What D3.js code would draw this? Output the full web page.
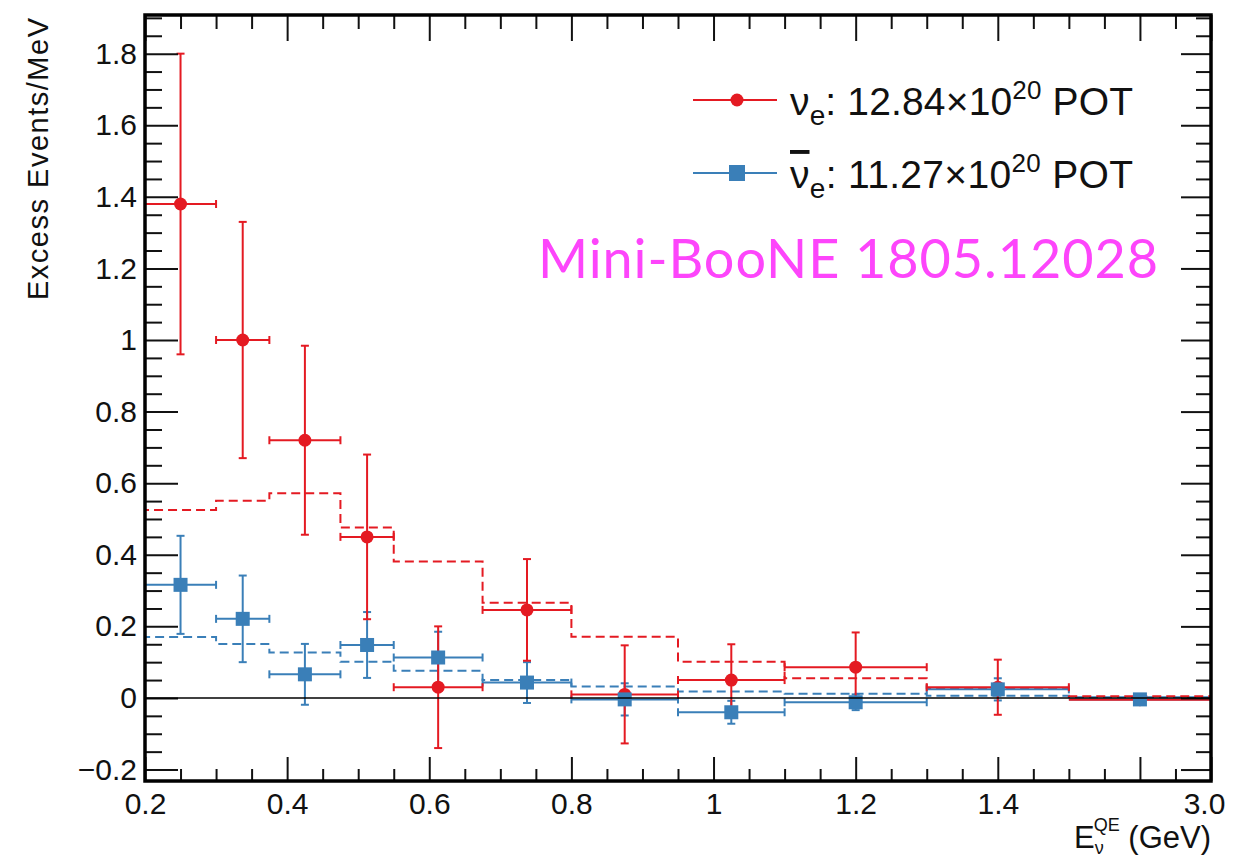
<!DOCTYPE html>
<html>
<head>
<meta charset="utf-8">
<script src="https://cdn.jsdelivr.net/npm/d3@7"></script>
<style>
  body { margin: 0; background: #fff; }
  .tick text { font-family: "Liberation Sans", Arial, sans-serif; fill: #111; }
  .domain { display: none; }
</style>
</head>
<body>
<script>
// bins in reconstructed neutrino energy (GeV)
let binEdges   = [0.2, 0.3, 0.375, 0.475, 0.55, 0.675, 0.8, 0.95, 1.1, 1.3, 1.5, 3.0];
let binCenters = [0.25, 0.3375, 0.425, 0.5125, 0.6125, 0.7375, 0.875, 1.025, 1.2, 1.4, 2.25];

// nu_e mode excess (events/MeV) and errors
let nueExcess = [1.38, 1.0, 0.72, 0.45, 0.03, 0.246, 0.01, 0.05, 0.086, 0.03, -0.005];
let nueErr    = [0.42, 0.33, 0.264, 0.23, 0.17, 0.142, 0.137, 0.10, 0.097, 0.077, 0.006];
// nu_e-bar mode excess and errors
let nuebarExcess = [0.316, 0.221, 0.066, 0.148, 0.113, 0.043, -0.004, -0.04, -0.012, 0.024, -0.004];
let nuebarErr    = [0.137, 0.121, 0.085, 0.092, 0.072, 0.057, 0.045, 0.032, 0.022, 0.031, 0.005];
// best-fit predictions (dashed histograms)
let nueFit    = [0.525, 0.551, 0.572, 0.476, 0.381, 0.266, 0.171, 0.101, 0.055, 0.027, 0.005];
let nuebarFit = [0.17, 0.151, 0.127, 0.101, 0.076, 0.05, 0.032, 0.018, 0.012, 0.006, 0.002];

// tick labels
let xMajorTicks  = [0.2, 0.4, 0.6, 0.8, 1.0, 1.2, 1.4, 2.25, 3.0];
let xMajorLabels = ["0.2", "0.4", "0.6", "0.8", "1", "1.2", "1.4", "", "3.0"];
let xMinorTicks  = [0.25, 0.3, 0.35, 0.45, 0.5, 0.55, 0.65, 0.7, 0.75, 0.85, 0.9, 0.95,
                    1.05, 1.1, 1.15, 1.25, 1.3, 1.35, 1.45, 1.5, 1.875, 2.625];
let yMajorTicks  = [-0.2, 0, 0.2, 0.4, 0.6, 0.8, 1.0, 1.2, 1.4, 1.6, 1.8];
let yMajorLabels = ["\u22120.2", "0", "0.2", "0.4", "0.6", "0.8", "1", "1.2", "1.4", "1.6", "1.8"];

let red  = "#e41a22",
    blue = "#3a7fb8";

let margin = {top: 15, right: 41, bottom: 81, left: 145},
    width  = 1252 - margin.left - margin.right,
    height = 862 - margin.top - margin.bottom;

let svg = d3.select("body").append("svg")
    .attr("width", 1252)
    .attr("height", 862)
    .append("g")
      .attr("transform", `translate(${margin.left}, ${margin.top})`);

// last bin 1.5-3.0 GeV is squeezed, like the original plot
let xScale = d3.scaleLinear()
    .domain([0.2, 1.5, 3.0])
    .range([0, width * 1.3 / 1.5, width]);
let yScale = d3.scaleLinear()
    .domain([-0.232, 1.908])
    .range([height, 0]);

function drawAxes() {
  let minorY = d3.range(-0.2, 1.91, 0.05).map(v => +v.toFixed(2))
      .filter(v => !yMajorTicks.some(t => Math.abs(t - v) < 1e-6));

  svg.append("g")
      .attr("transform", `translate(0, ${height})`)
      .call(d3.axisBottom(xScale).tickValues(xMajorTicks).tickSize(-24).tickPadding(12)
        .tickFormat((d, i) => xMajorLabels[i]))
      .call(g => g.selectAll("text").attr("font-size", 30))
      .call(g => g.selectAll(".tick:last-child text").attr("dx", -7));
  svg.append("g")
      .attr("transform", `translate(0, ${height})`)
      .call(d3.axisBottom(xScale).tickValues(xMinorTicks).tickSize(-12).tickFormat(""));
  svg.append("g")
      .call(d3.axisTop(xScale).tickValues(xMajorTicks).tickSize(-26).tickFormat(""));
  svg.append("g")
      .call(d3.axisTop(xScale).tickValues(xMinorTicks).tickSize(-14).tickFormat(""));

  svg.append("g")
      .call(d3.axisLeft(yScale).tickValues(yMajorTicks).tickSize(-33).tickPadding(8)
        .tickFormat((d, i) => yMajorLabels[i]))
      .call(g => g.selectAll("text").attr("font-size", 30));
  svg.append("g")
      .call(d3.axisLeft(yScale).tickValues(minorY).tickSize(-17).tickFormat(""));
  svg.append("g")
      .attr("transform", `translate(${width}, 0)`)
      .call(d3.axisRight(yScale).tickValues(yMajorTicks).tickSize(-30).tickFormat(""));
  svg.append("g")
      .attr("transform", `translate(${width}, 0)`)
      .call(d3.axisRight(yScale).tickValues(minorY).tickSize(-15).tickFormat(""));

  svg.selectAll(".tick line").attr("stroke", "#111").attr("stroke-width", 2);

  svg.append("rect")
      .attr("width", width)
      .attr("height", height)
      .attr("fill", "none")
      .attr("stroke", "#000")
      .attr("stroke-width", 3.5);

  // zero line
  svg.append("line")
      .attr("x1", 0).attr("x2", width)
      .attr("y1", yScale(0)).attr("y2", yScale(0))
      .attr("stroke", "#000")
      .attr("stroke-width", 1.6);
}

function drawHist(fit, color) {
  let pts = [[binEdges[0], yScale.domain()[0]]];
  fit.forEach((v, i) => pts.push([binEdges[i], v]));
  pts.push([binEdges[binEdges.length - 1], fit[fit.length - 1]]);
  let line = d3.line()
      .curve(d3.curveStepAfter)
      .x(d => xScale(d[0]))
      .y(d => yScale(d[1]));
  svg.append("path")
      .datum(pts)
      .attr("d", line)
      .attr("fill", "none")
      .attr("stroke", color)
      .attr("stroke-width", 2)
      .attr("stroke-dasharray", "9,5");
}

function drawErrors(values, errs, color) {
  let cap = 4;
  let g = svg.append("g")
      .attr("stroke", color)
      .attr("stroke-width", 2);
  values.forEach((v, i) => {
    let x0 = xScale(binEdges[i]), x1 = xScale(binEdges[i + 1]),
        xc = xScale(binCenters[i]), yc = yScale(v),
        yt = yScale(v + errs[i]), yb = yScale(v - errs[i]);
    g.append("line").attr("x1", x0).attr("x2", x1).attr("y1", yc).attr("y2", yc);
    g.append("line").attr("x1", xc).attr("x2", xc).attr("y1", yt).attr("y2", yb);
    if (i < values.length - 1) {
      g.append("line").attr("x1", x0).attr("x2", x0).attr("y1", yc - cap).attr("y2", yc + cap);
      g.append("line").attr("x1", x1).attr("x2", x1).attr("y1", yc - cap).attr("y2", yc + cap);
      g.append("line").attr("x1", xc - cap).attr("x2", xc + cap).attr("y1", yt).attr("y2", yt);
      g.append("line").attr("x1", xc - cap).attr("x2", xc + cap).attr("y1", yb).attr("y2", yb);
    }
  });
}

function drawCircles(values) {
  svg.append("g").selectAll("circle")
      .data(values)
      .enter()
        .append("circle")
        .attr("cx", (v, i) => xScale(binCenters[i]))
        .attr("cy", v => yScale(v))
        .attr("r", 6.5)
        .attr("fill", red);
}

function drawSquares(values) {
  let s = 14;
  svg.append("g").selectAll("rect")
      .data(values)
      .enter()
        .append("rect")
        .attr("x", (v, i) => xScale(binCenters[i]) - s / 2)
        .attr("y", v => yScale(v) - s / 2)
        .attr("width", s)
        .attr("height", s)
        .attr("fill", blue);
}

function legendText(g, y, label, bar) {
  let t = g.append("text").attr("x", 97).attr("y", y)
      .attr("font-family", "Liberation Sans, Arial, sans-serif")
      .attr("font-size", 39).attr("fill", "#111")
      .attr("textLength", 343);
  let nu = t.append("tspan").text("\u03bd");
  if (bar) nu.attr("text-decoration", "overline");
  t.append("tspan").attr("font-size", 28).attr("dy", 10).text("e");
  t.append("tspan").attr("dy", -10).text(": " + label + "\u00d710");
  t.append("tspan").attr("font-size", 26).attr("dy", -16).text("20");
  t.append("tspan").attr("dy", 16).text(" POT");
}

function drawLegend() {
  let lg = svg.append("g").attr("transform", `translate(${693 - margin.left}, ${100 - margin.top})`);

  lg.append("line").attr("x1", 0).attr("x2", 84).attr("y1", 0).attr("y2", 0)
      .attr("stroke", red).attr("stroke-width", 2);
  lg.append("circle").attr("cx", 44).attr("cy", 0).attr("r", 6.5).attr("fill", red);
  legendText(lg, 15, "12.84", false);

  lg.append("line").attr("x1", 0).attr("x2", 84).attr("y1", 73).attr("y2", 73)
      .attr("stroke", blue).attr("stroke-width", 2);
  lg.append("rect").attr("x", 36).attr("y", 65).attr("width", 16).attr("height", 16).attr("fill", blue);
  legendText(lg, 88, "11.27", true);
}

function drawLabels() {
  let font = "Liberation Sans, Arial, sans-serif";
  svg.append("text")
      .attr("transform", `translate(${48 - margin.left}, ${18 - margin.top}) rotate(-90)`)
      .attr("text-anchor", "end")
      .attr("font-family", font)
      .attr("font-size", 29)
      .attr("textLength", 282)
      .attr("fill", "#111")
      .text("Excess Events/MeV");

  let xt = svg.append("text")
      .attr("x", width)
      .attr("y", 848 - margin.top)
      .attr("text-anchor", "end")
      .attr("font-family", font)
      .attr("font-size", 31)
      .attr("fill", "#111");
  xt.append("tspan").text("E");
  xt.append("tspan").attr("font-size", 18).attr("dy", 6).text("\u03bd");
  xt.append("tspan").attr("font-size", 18).attr("dx", -10).attr("dy", -23).text("QE");
  xt.append("tspan").attr("dy", 17).text(" (GeV)");

  svg.append("text")
      .attr("x", 538 - margin.left)
      .attr("y", 278 - margin.top)
      .attr("font-family", "Lato, sans-serif")
      .attr("font-size", 54)
      .attr("textLength", 620)
      .attr("fill", "#fd45fb")
      .text("Mini-BooNE 1805.12028");
}

drawHist(nuebarFit, blue);
drawHist(nueFit, red);
drawErrors(nuebarExcess, nuebarErr, blue);
drawErrors(nueExcess, nueErr, red);
drawCircles(nueExcess);
drawSquares(nuebarExcess);
drawAxes();
drawLegend();
drawLabels();
</script>
</body>
</html>
